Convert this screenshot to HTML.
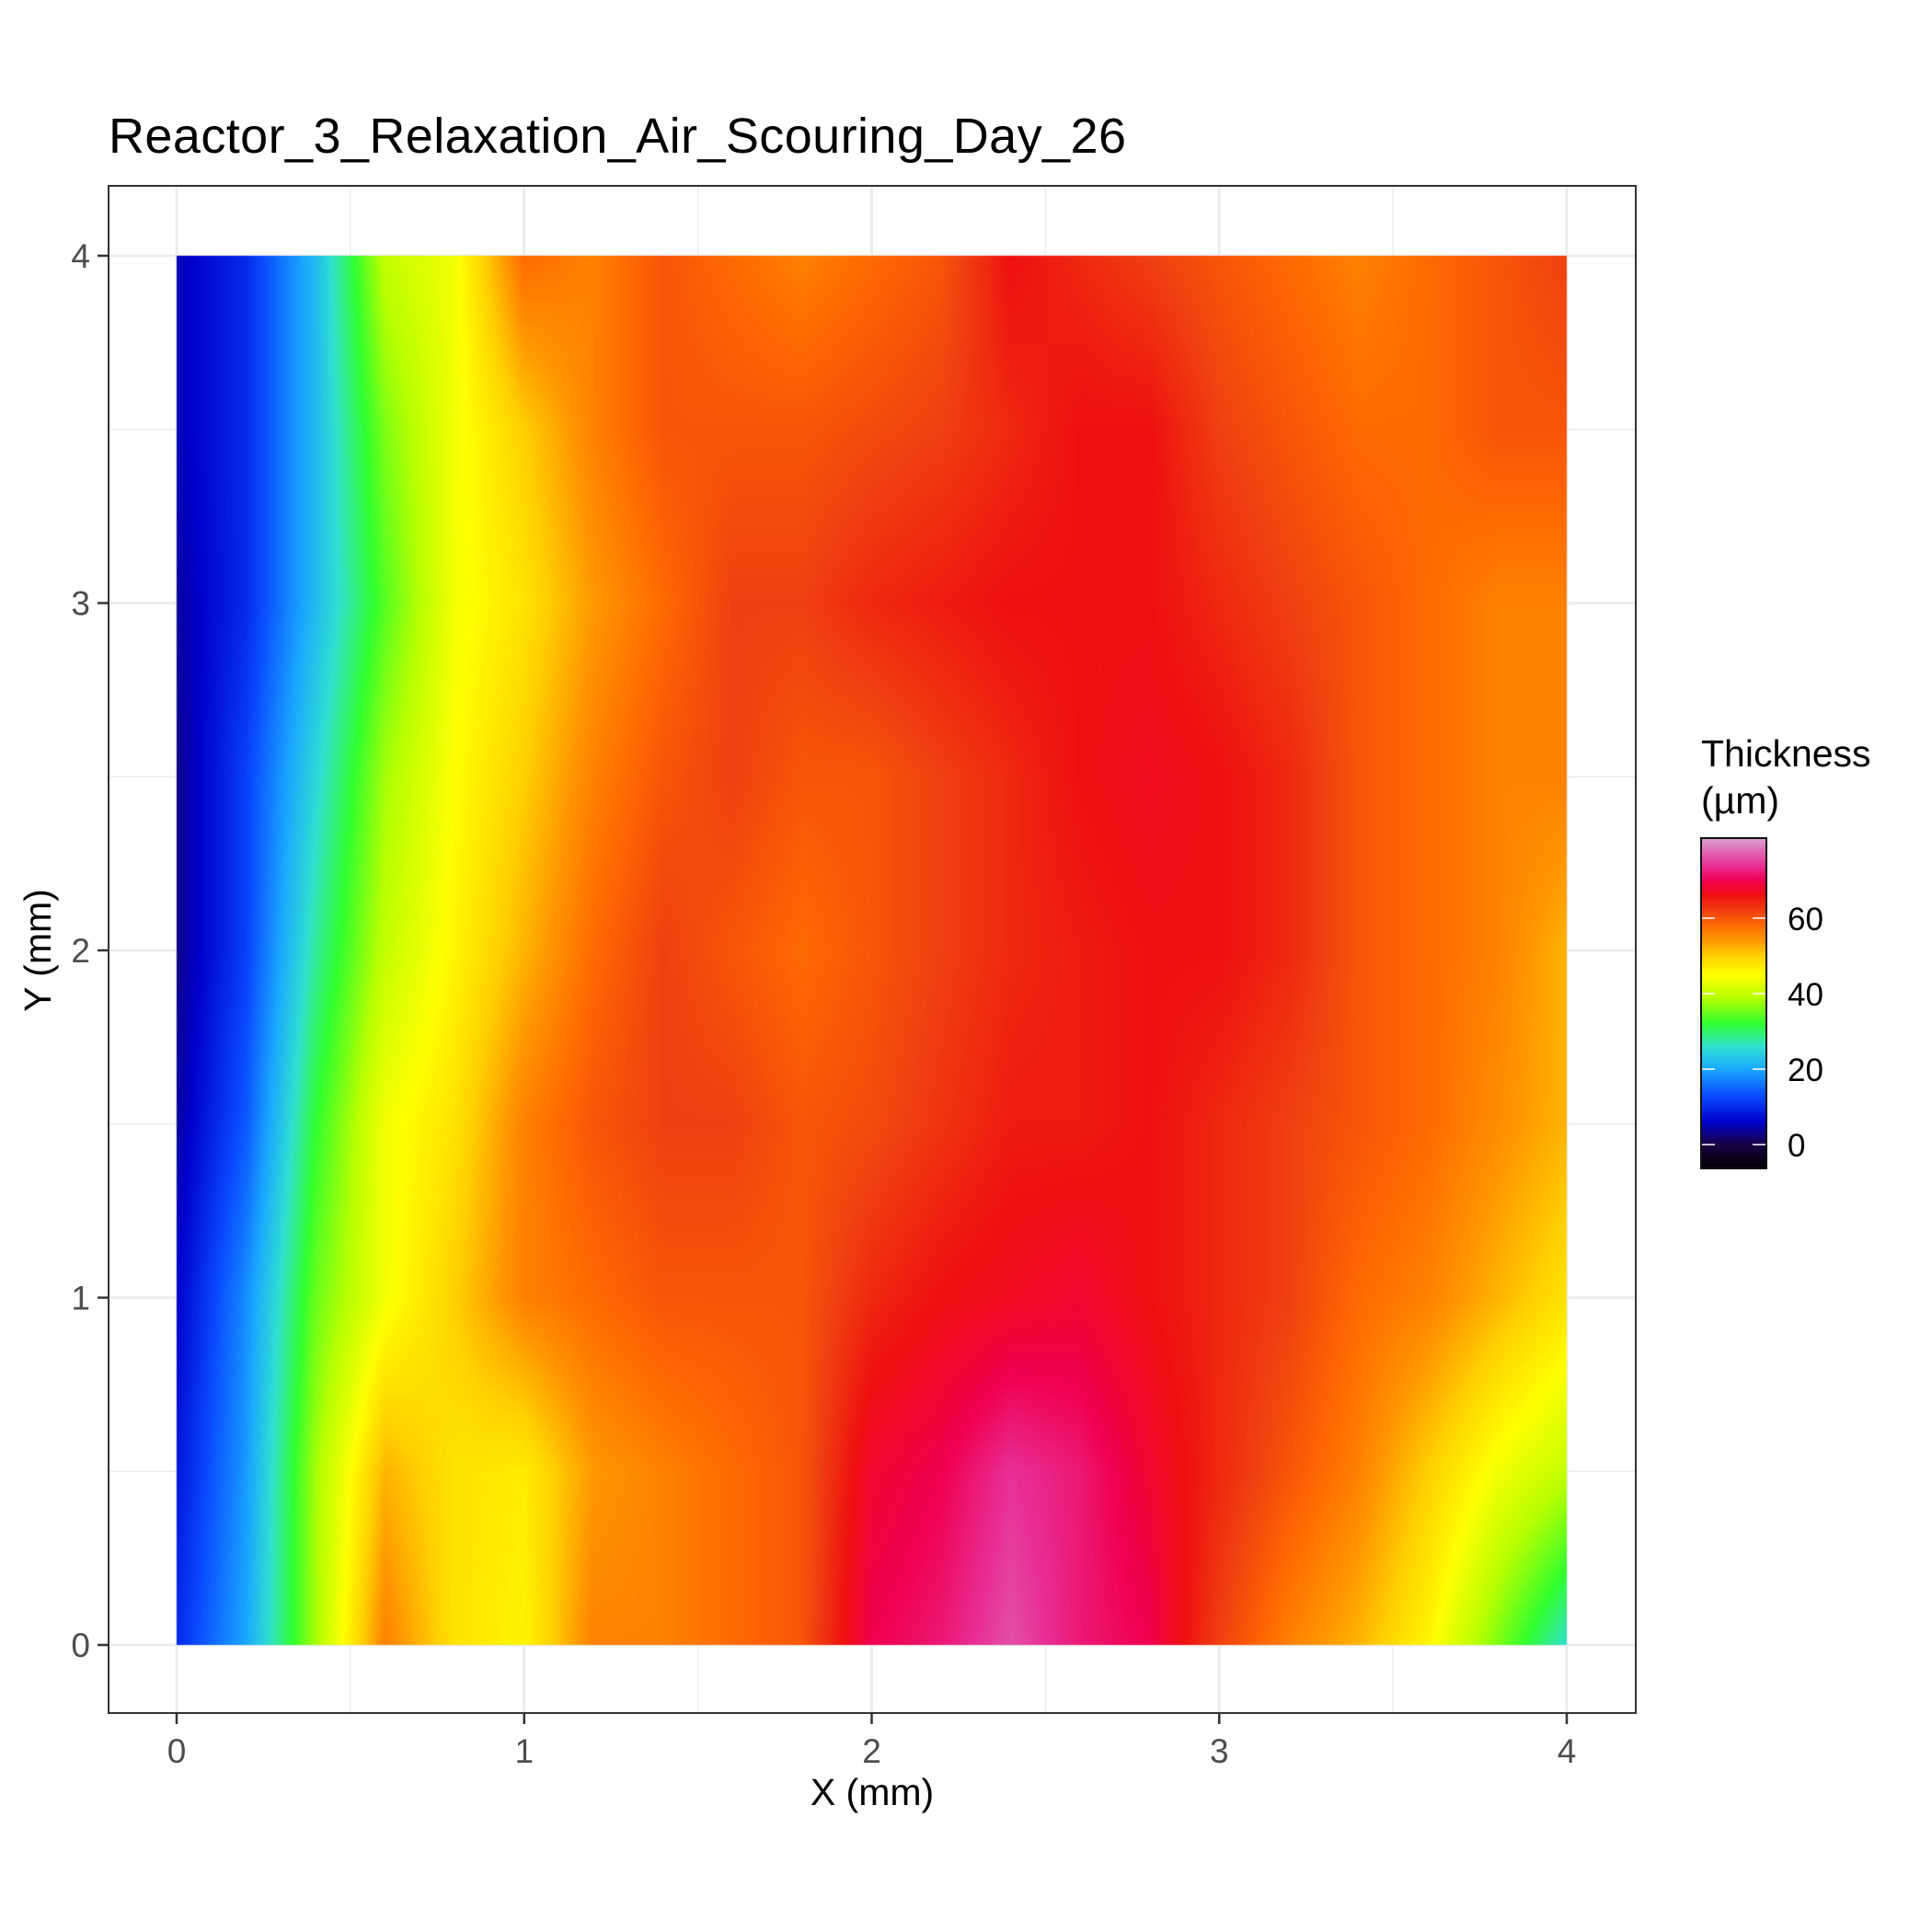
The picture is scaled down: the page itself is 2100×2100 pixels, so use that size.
<!DOCTYPE html>
<html><head><meta charset="utf-8"><style>
html,body{margin:0;padding:0;background:#fff;}
#wrap{position:relative;width:2100px;height:2100px;overflow:hidden;font-family:"Liberation Sans",Arial,sans-serif;}
svg,canvas{position:absolute;left:0;top:0;}
</style></head><body>
<div id="wrap">
<svg id="bg" width="2100" height="2100"></svg>
<canvas id="heat" width="2100" height="2100"></canvas>
<svg id="fg" width="2100" height="2100">
<defs><linearGradient id="cb" x1="0" y1="1" x2="0" y2="0"></linearGradient></defs>
<text x="118" y="166" font-size="54" fill="#000" textLength="1106">Reactor_3_Relaxation_Air_Scouring_Day_26</text>
<text x="948" y="1962" font-size="41" text-anchor="middle" fill="#000">X (mm)</text>
<text transform="translate(55,1033) rotate(-90)" font-size="41" text-anchor="middle" fill="#000">Y (mm)</text>
<text x="1849" y="833" font-size="41" fill="#000">Thickness</text>
<text x="1849" y="884" font-size="41" fill="#000">(µm)</text>
</svg>
</div>
<script>
// Data grid: thickness (µm) sampled at x = xs[i], y = ys[j]
const xs = [0,0.2,0.4,0.6,0.8,1.0,1.2,1.4,1.6,1.8,2.0,2.2,2.4,2.6,2.8,3.0,3.2,3.4,3.6,3.8,4.0];
const ys = [0,0.5,1,1.5,2,2.5,3,3.5,4];
const row_y0   = [10,20,38,56,48,46,56,56,58,60,70,72,76,72,70,62,56,52,46,36,26];
const row_y05  = [8,19,38,52,48,47,54,56,58,60,68,70,74,72,68,64,60,56,50,44,40];
const row_y1   = [6,18,35,44,50,56,58,60,60,60,64,66,67,68,66,64,62,58,56,52,48];
const row_y15  = [4,14,32,44,48,56,60,62,62,60,61,63,65,65,66,64,62,60,58,55,52];
const row_y2   = [3,12,28,40,46,52,58,62,60,58,60,62,64,65,66,66,64,60,58,56,52];
const row_y25  = [3,12,25,38,45,50,56,60,62,60,60,62,64,66,67,66,64,60,58,56,56];
const row_y3   = [4,10,22,34,44,48,54,58,62,62,64,65,66,66,66,64,62,60,58,56,56];
const row_y35  = [5,10,22,36,44,50,56,60,60,60,61,62,64,66,66,62,60,58,58,60,60];
const row_y4   = [5,10,22,40,44,58,56,60,58,56,58,60,66,64,62,60,58,56,58,60,62];
const rows = [row_y0,row_y05,row_y1,row_y15,row_y2,row_y25,row_y3,row_y35,row_y4];
const xTicks = [0,1,2,3,4];
const yTicks = [0,1,2,3,4];
const legendTicks = [0,20,40,60];
const legendMin = -6.3, legendMax = 81.2;
const colorStops = [[-6.3,'#000000'],[0,'#1a0046'],[6,'#0000cc'],[13,'#0a4cff'],[20,'#1aa8ff'],[26,'#30e0d0'],[32,'#30ff30'],[39,'#b8ff00'],[45,'#ffff00'],[50,'#ffd000'],[54,'#ff9800'],[58,'#ff6a00'],[62,'#f04010'],[66,'#ee1010'],[70,'#f00050'],[74,'#e83098'],[81.2,'#d8a0d0']];

const NS='http://www.w3.org/2000/svg';
const X0=192, PX=377.75, Y0=1788, PY=377.5;
const sx=v=>X0+v*PX, sy=v=>Y0-v*PY;
const PL=118, PR=1778, PT=202, PB=1862;

function hex(c){return [parseInt(c.slice(1,3),16),parseInt(c.slice(3,5),16),parseInt(c.slice(5,7),16)];}
function colorOf(v){
  if(v<=colorStops[0][0]) return hex(colorStops[0][1]);
  for(let i=1;i<colorStops.length;i++){
    if(v<=colorStops[i][0]){
      const a=colorStops[i-1],b=colorStops[i],t=(v-a[0])/(b[0]-a[0]);
      const ca=hex(a[1]),cb=hex(b[1]);
      return [0,1,2].map(k=>Math.round(ca[k]+(cb[k]-ca[k])*t));
    }
  }
  return hex(colorStops[colorStops.length-1][1]);
}
function mk(parent,tag,attrs){const e=document.createElementNS(NS,tag);for(const k in attrs)e.setAttribute(k,attrs[k]);parent.appendChild(e);return e;}

const bg=document.getElementById('bg');
mk(bg,'rect',{x:PL,y:PT,width:PR-PL,height:PB-PT,fill:'#fff'});
for(let v=0.5;v<4;v+=1){
  mk(bg,'line',{x1:sx(v),x2:sx(v),y1:PT,y2:PB,stroke:'#ebebeb','stroke-width':1.4});
  mk(bg,'line',{x1:PL,x2:PR,y1:sy(v),y2:sy(v),stroke:'#ebebeb','stroke-width':1.4});
}
xTicks.forEach(v=>{const l=mk(bg,'line',{x1:sx(v),x2:sx(v),y1:PT,y2:PB,stroke:'#ebebeb','stroke-width':2.8});

});
yTicks.forEach(v=>{const l=mk(bg,'line',{x1:PL,x2:PR,y1:sy(v),y2:sy(v),stroke:'#ebebeb','stroke-width':2.8});

});

const cv=document.getElementById('heat'),ctx=cv.getContext('2d');
const x0p=Math.round(sx(xs[0])),x1p=Math.round(sx(xs[xs.length-1])),y1p=Math.round(sy(ys[ys.length-1])),y0p=Math.round(sy(ys[0]));
const W=x1p-x0p,H=y0p-y1p;
const img=ctx.createImageData(W,H);
function findIdx(arr,v){for(let i=0;i<arr.length-2;i++){if(v<=arr[i+1])return i;}return arr.length-2;}
for(let py=0;py<H;py++){
  const yv=(y0p-(y1p+py+0.5))/PY;
  const j=findIdx(ys,yv),ty=Math.min(1,Math.max(0,(yv-ys[j])/(ys[j+1]-ys[j])));
  for(let px=0;px<W;px++){
    const xv=(x0p+px+0.5-X0)/PX;
    const i=findIdx(xs,xv),tx=Math.min(1,Math.max(0,(xv-xs[i])/(xs[i+1]-xs[i])));
    const a=rows[j][i],b=rows[j][i+1],c=rows[j+1][i],d=rows[j+1][i+1];
    const v=(a*(1-tx)+b*tx)*(1-ty)+(c*(1-tx)+d*tx)*ty;
    const col=colorOf(v),o=(py*W+px)*4;
    img.data[o]=col[0];img.data[o+1]=col[1];img.data[o+2]=col[2];img.data[o+3]=255;
  }
}
ctx.putImageData(img,x0p,y1p);

const fg=document.getElementById('fg');
const border=mk(fg,'rect',{x:PL,y:PT,width:PR-PL,height:PB-PT,fill:'none',stroke:'#333','stroke-width':2});


xTicks.forEach(v=>{
  mk(fg,'line',{x1:sx(v),x2:sx(v),y1:PB,y2:PB+12,stroke:'#333','stroke-width':2.5});
  const t=mk(fg,'text',{x:sx(v),y:PB+54,'font-size':37,'text-anchor':'middle',fill:'#4d4d4d'});
  t.textContent=v;
  
  
});
yTicks.forEach(v=>{
  mk(fg,'line',{x1:PL-12,x2:PL,y1:sy(v),y2:sy(v),stroke:'#333','stroke-width':2.5});
  const t=mk(fg,'text',{x:PL-20,y:sy(v)+13,'font-size':37,'text-anchor':'end',fill:'#4d4d4d'});
  t.textContent=v;
  
  
});
const grad=document.getElementById('cb');
colorStops.forEach(s=>{mk(grad,'stop',{offset:((s[0]-legendMin)/(legendMax-legendMin)).toFixed(4),'stop-color':s[1]});});
const CB_L=1849,CB_R=1920,CB_T=911,CB_B=1270;
const ly=v=>CB_B-(v-legendMin)/(legendMax-legendMin)*(CB_B-CB_T);
const bar=mk(fg,'rect',{x:CB_L,y:CB_T,width:CB_R-CB_L,height:CB_B-CB_T,fill:'url(#cb)',stroke:'#111','stroke-width':2});


legendTicks.forEach(v=>{
  mk(fg,'line',{x1:CB_L+1,x2:CB_L+15,y1:ly(v),y2:ly(v),stroke:'#fff','stroke-width':1.5});
  mk(fg,'line',{x1:CB_R-15,x2:CB_R-1,y1:ly(v),y2:ly(v),stroke:'#fff','stroke-width':1.5});
  const t=mk(fg,'text',{x:1943,y:ly(v)+13,'font-size':35,fill:'#000'});
  t.textContent=v;
  
  
});
</script>
</body></html>
